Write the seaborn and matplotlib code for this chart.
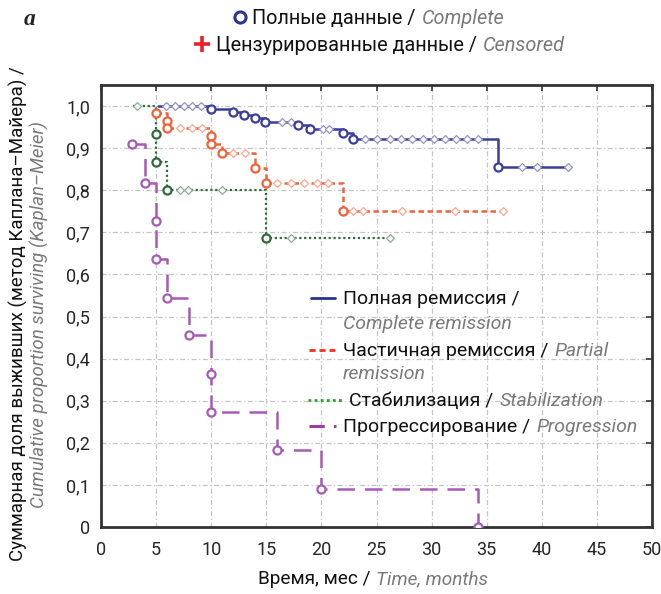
import numpy as np
import pandas as pd
import matplotlib
matplotlib.use("Agg")
import matplotlib.pyplot as plt
from matplotlib.lines import Line2D
import seaborn as sns

# ---- Kaplan–Meier step curves (time in months, survival after each event) ----
# Complete remission
cr_start = (5.2, 1.0)
cr_event_t = [10.0, 12.0, 13.0, 14.0, 14.9, 17.9, 19.0, 22.0, 22.9, 36.0]
cr_event_s = [0.994, 0.986, 0.979, 0.971, 0.962, 0.954, 0.945, 0.936, 0.921, 0.855]
cr_end = 42.4
cr_cens_t = [5.9, 6.7, 7.5, 8.3, 9.1, 16.4, 17.2, 20.1, 20.7, 24.0, 25.0, 26.2,
             27.2, 28.2, 29.2, 30.2, 31.2, 32.2, 33.2, 34.2, 38.2, 39.6, 42.4]

# Partial remission
pr_start = (5.0, 0.983)
pr_event_t = [6.0, 6.0, 10.0, 10.0, 11.0, 14.0, 15.0, 22.0]
pr_event_s = [0.965, 0.948, 0.929, 0.909, 0.889, 0.853, 0.818, 0.750]
pr_end = 36.5
pr_cens_t = [7.2, 8.3, 9.2, 12.0, 13.1, 16.0, 17.2, 18.4, 19.6, 20.6,
             22.9, 23.8, 27.3, 32.1, 36.5]

# Stabilization
st_start = (2.9, 1.0)
st_event_t = [5.0, 5.0, 6.0, 15.0]
st_event_s = [0.933, 0.867, 0.800, 0.686]
st_end = 26.2
st_cens_t = [3.3, 7.2, 7.9, 11.0, 17.2, 26.2]

# Progression
pg_start = (2.8, 0.909)
pg_event_t = [4.0, 5.0, 5.0, 6.0, 8.0, 10.0, 10.0, 16.0, 20.0, 34.2]
pg_event_s = [0.818, 0.727, 0.636, 0.545, 0.455, 0.364, 0.273, 0.182, 0.091, 0.0]
pg_end = 34.2
pg_cens_t = []

x_ticks = [0, 5, 10, 15, 20, 25, 30, 35, 40, 45, 50]
y_ticks = [0, 0.1, 0.2, 0.3, 0.4, 0.5, 0.6, 0.7, 0.8, 0.9, 1.0]
y_tick_labels = ["0", "0,1", "0,2", "0,3", "0,4", "0,5", "0,6", "0,7", "0,8", "0,9", "1,0"]

W, H, DPI = 661, 594, 100
sns.set_style("white")
plt.rcParams["font.family"] = ["Roboto", "DejaVu Sans"]

fig = plt.figure(figsize=(W / DPI, H / DPI), dpi=DPI)
ax = fig.add_axes([101 / W, 1 - 527 / H, (652 - 101) / W, (527 - 85) / H])


def lighten(c, f=0.55):
    r, g, b = matplotlib.colors.to_rgb(c)
    return (r + (1 - r) * f, g + (1 - g) * f, b + (1 - b) * f)


series = [
    # name, start, event t, event s, end, censored t, colour, line style, lw
    ("st", st_start, st_event_t, st_event_s, st_end, st_cens_t, "#2f6b3a", (0, (1, 1.2)), 1.6),
    ("pg", pg_start, pg_event_t, pg_event_s, pg_end, pg_cens_t, "#a65ab5", (0, (7, 4)), 1.8),
    ("pr", pr_start, pr_event_t, pr_event_s, pr_end, pr_cens_t, "#f0623a", (0, (2.2, 1.4)), 1.8),
    ("cr", cr_start, cr_event_t, cr_event_s, cr_end, cr_cens_t, "#3b3d9b", "-", 1.8),
]

for name, start, et, es, end, ct, col, ls, lw in series:
    t = [start[0]] + list(et) + [end]
    s = [start[1]] + list(es) + [es[-1]]
    df = pd.DataFrame({"t": t, "s": s})
    sns.lineplot(data=df, x="t", y="s", ax=ax, estimator=None, sort=False,
                 drawstyle="steps-post", color=col, linestyle=ls, linewidth=lw,
                 zorder=3)
    # observed events: hollow circles at the level after each drop
    ev = pd.DataFrame({"t": [start[0]] + list(et) if start[1] < 1.0 else list(et),
                       "s": [start[1]] + list(es) if start[1] < 1.0 else list(es)})
    ax.scatter(ev["t"], ev["s"], s=34, facecolors="white", edgecolors=col,
               linewidths=1.6, zorder=5)
    # censored observations sit on the curve level
    if ct:
        tt = np.array(t)
        ss = np.array(s)
        idx = np.searchsorted(tt, np.array(ct), side="right") - 1
        cy = ss[np.clip(idx, 0, len(ss) - 1)]
        cdf = pd.DataFrame({"t": ct, "s": cy})
        sns.scatterplot(data=cdf, x="t", y="s", ax=ax, marker="D", s=16,
                        facecolor="white", edgecolor=lighten(col, 0.45),
                        linewidth=0.9, zorder=4, legend=False)

ax.set_xlim(0, 50)
ax.set_ylim(0, 1.05)
ax.set_xticks(x_ticks)
ax.set_xticklabels([str(v) for v in x_ticks])
ax.set_yticks(y_ticks)
ax.set_yticklabels(y_tick_labels)
ax.set_xlabel("")
ax.set_ylabel("")
ax.grid(True, color="#c4c4c4", linestyle=(0, (4, 2, 1, 2)), linewidth=0.9, zorder=0)
ax.tick_params(axis="both", direction="in", length=4, width=1.2, color="#333333",
               top=True, right=True, labelsize=13, pad=8)
ax.tick_params(axis="x", pad=10)
for sp in ax.spines.values():
    sp.set_color("#333333")
    sp.set_linewidth(2.0)

renderer = fig.canvas.get_renderer()
BLACK = "#111111"
GREY = "#7a7a7a"


def run_text(x, y, parts, size=13.5, gap=5):
    """Write consecutive text runs on one baseline (x, y in pixels from top-left)."""
    for s, style in parts:
        txt = fig.text(x / W, 1 - y / H, s, ha="left", va="baseline",
                       fontsize=size, **style)
        x += txt.get_window_extent(renderer).width + gap


RU = {"color": BLACK}
EN = {"color": GREY, "style": "italic"}

# panel letter
fig.text(24 / W, 1 - 25 / H, "a", fontsize=17, fontweight="bold", fontstyle="italic",
         family="Liberation Serif", ha="left", va="baseline")

# marker key above the plot
fig.add_artist(Line2D([240 / W], [1 - 17 / H], marker="o", markersize=8,
                      markerfacecolor="white", markeredgecolor="#2b3595",
                      markeredgewidth=2.2, transform=fig.transFigure))
run_text(252, 24, [("Полные данные /", RU), ("Complete", EN)], size=14.3, gap=6)
fig.add_artist(Line2D([202 / W], [1 - 44 / H], marker="+", markersize=12,
                      markeredgecolor="#e8202a", markeredgewidth=2.6,
                      transform=fig.transFigure))
run_text(216, 51, [("Цензурированные данные /", RU), ("Censored", EN)], size=14.3, gap=6)

# axis titles
run_text(258, 584, [("Время, мес /", RU), ("Time, months", EN)], size=13.7)
fig.text(18 / W, 1 - 314 / H, "Суммарная доля выживших (метод Каплана–Майера) /",
         rotation=90, ha="center", va="center", fontsize=13.5, color=BLACK)
fig.text(39 / W, 1 - 314 / H, "Cumulative proportion surviving (Kaplan–Meier)",
         rotation=90, ha="center", va="center", fontsize=13.5, color=GREY,
         style="italic")

# curve key inside the plot
key = [
    ("#2b3390", "-", 2.0, 311, 335, 304, [("Полная ремиссия /", RU)]),
    (None, None, None, None, None, 329, [("Complete remission", EN)]),
    ("#ff2a1a", (0, (2.2, 1.4)), 2.0, 309, 335, 356, [("Частичная ремиссия /", RU), ("Partial", EN)]),
    (None, None, None, None, None, 379, [("remission", EN)]),
    ("#2aa52a", (0, (1, 1.2)), 2.0, 308, 342, 406, [("Стабилизация /", RU), ("Stabilization", EN)]),
    ("#a03ca5", (0, (5, 3)), 2.2, 309, 336, 432, [("Прогрессирование /", RU), ("Progression", EN)]),
]
for col, ls, lw, x0, x1, yb, parts in key:
    if col is not None:
        fig.add_artist(Line2D([x0 / W, x1 / W], [1 - (yb - 6) / H] * 2, color=col,
                              linestyle=ls, linewidth=lw, transform=fig.transFigure))
    run_text(349 if col == "#2aa52a" else 343, yb, parts, size=14, gap=6)

fig.savefig("out.png", dpi=DPI)
